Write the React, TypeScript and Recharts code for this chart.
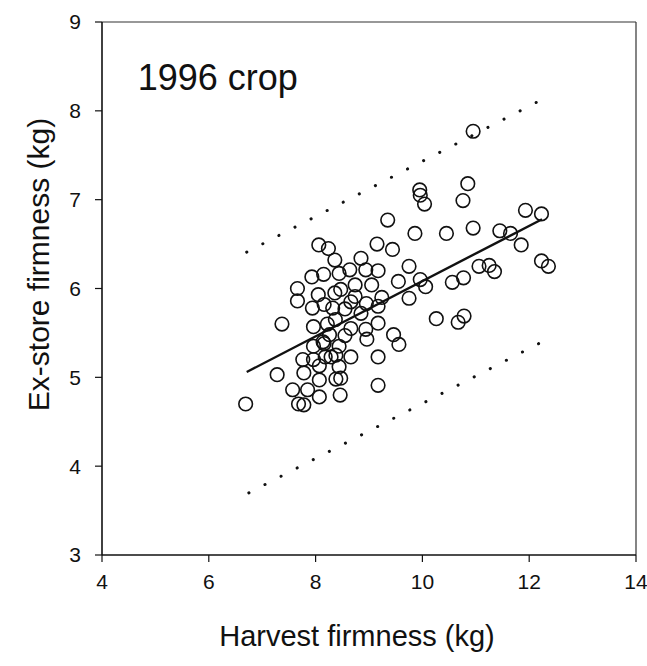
import React from "react";
import {
  ScatterChart,
  Scatter,
  XAxis,
  YAxis,
  ReferenceLine,
  ReferenceDot,
} from "recharts";

// firmness readings (kg)
const harvestFirmness = [
  10.95, 9.95, 9.96, 10.04, 10.85, 10.76, 9.35, 11.93, 12.23, 9.86,
  10.45, 10.95, 11.45, 11.65, 11.85, 9.15, 9.44, 8.06, 8.24, 8.36,
  8.85, 9.75, 12.23, 12.36, 11.06, 11.25, 11.35, 10.56, 10.77, 10.06,
  9.96, 9.55, 9.75, 7.93, 8.15, 8.44, 8.64, 8.94, 9.17, 8.74,
  9.05, 7.66, 7.66, 8.05, 8.36, 8.47, 9.24, 7.94, 8.32, 8.55,
  8.66, 8.95, 9.17, 7.37, 7.96, 8.37, 8.66, 8.94, 9.17, 8.96,
  9.46, 9.56, 8.26, 8.55, 7.96, 8.14, 8.44, 10.26, 10.78, 10.67,
  7.76, 7.96, 8.18, 8.38, 8.66, 9.17, 8.07, 8.44, 7.78, 8.07,
  8.38, 8.47, 7.28, 7.57, 7.85, 8.07, 8.46, 9.17, 7.68, 7.78,
  6.69, 8.16, 8.22, 8.16, 8.29, 8.74, 8.85,
];
const exStoreFirmness = [
  7.77, 7.11, 7.05, 6.95, 7.18, 6.99, 6.77, 6.88, 6.84, 6.62,
  6.62, 6.68, 6.65, 6.62, 6.49, 6.5, 6.44, 6.49, 6.45, 6.32,
  6.34, 6.25, 6.31, 6.25, 6.25, 6.26, 6.19, 6.07, 6.12, 6.02,
  6.1, 6.08, 5.89, 6.13, 6.16, 6.17, 6.21, 6.21, 6.2, 6.04,
  6.04, 6.0, 5.86, 5.93, 5.95, 5.99, 5.9, 5.78, 5.78, 5.77,
  5.85, 5.83, 5.8, 5.6, 5.57, 5.65, 5.55, 5.54, 5.61, 5.43,
  5.48, 5.37, 5.48, 5.47, 5.35, 5.4, 5.35, 5.66, 5.69, 5.62,
  5.2, 5.2, 5.23, 5.25, 5.23, 5.23, 5.13, 5.12, 5.05, 4.97,
  4.98, 4.99, 5.03, 4.86, 4.86, 4.78, 4.8, 4.91, 4.7, 4.69,
  4.7, 5.82, 5.6, 5.38, 5.23, 5.91, 5.72,
];

// fitted line and the two dotted limits (end points)
const fitX = [6.71, 12.24];
const fitY = [5.06, 6.78];
const upperX = [6.71, 12.15];
const upperY = [6.41, 8.1];
const lowerX = [6.75, 12.18];
const lowerY = [3.7, 5.38];

const xTicks = [4, 6, 8, 10, 12, 14];
const yTicks = [3, 4, 5, 6, 7, 8, 9];

const points = harvestFirmness.map((x, i) => ({ x, y: exStoreFirmness[i] }));

const FONT = '"Liberation Sans", Arial, Helvetica, sans-serif';
const INK = "#111";

function Ring(props: any) {
  const { cx, cy } = props;
  if (cx == null || cy == null) return <g />;
  return (
    <circle cx={cx} cy={cy} r={6.8} fill="none" stroke={INK} strokeWidth={1.6} />
  );
}

function seg(xs: number[], ys: number[]) {
  return [
    { x: xs[0], y: ys[0] },
    { x: xs[1], y: ys[1] },
  ] as any;
}

export default function App() {
  return (
    <div
      style={{
        position: "absolute",
        left: 0,
        top: 0,
        width: 647,
        height: 666,
        background: "#fff",
      }}
    >
      <ScatterChart
        width={647}
        height={666}
        margin={{ top: 22, right: 11, bottom: 51, left: 12 }}
      >
        <XAxis
          type="number"
          dataKey="x"
          domain={[4, 14]}
          ticks={xTicks}
          height={60}
          tickSize={7}
          tickMargin={12}
          axisLine={{ stroke: INK, strokeWidth: 1.6 }}
          tickLine={{ stroke: INK, strokeWidth: 1.2 }}
          tick={{ fontSize: 21, fill: INK, fontFamily: FONT }}
          label={{
            content: ({ viewBox }: any) => (
              <text
                x={viewBox.x + viewBox.width / 2 - 12}
                y={viewBox.y + 81}
                textAnchor="middle"
                dominantBaseline="central"
                fontSize={29}
                fontFamily={FONT}
                fill={INK}
              >
                Harvest firmness (kg)
              </text>
            ),
          }}
        />
        <YAxis
          type="number"
          dataKey="y"
          domain={[3, 9]}
          ticks={yTicks}
          width={90}
          tickSize={7}
          tickMargin={14}
          axisLine={{ stroke: INK, strokeWidth: 1.6 }}
          tickLine={{ stroke: INK, strokeWidth: 1.2 }}
          tick={{ fontSize: 21, fill: INK, fontFamily: FONT }}
          label={{
            content: ({ viewBox }: any) => {
              const cx = viewBox.x + 26;
              const cy = viewBox.y + viewBox.height / 2 - 24;
              return (
                <text
                  x={cx}
                  y={cy}
                  transform={`rotate(-90 ${cx} ${cy})`}
                  textAnchor="middle"
                  dominantBaseline="central"
                  fontSize={30}
                  fontFamily={FONT}
                  fill={INK}
                >
                  Ex-store firmness (kg)
                </text>
              );
            },
          }}
        />

        {/* frame: top and right sides */}
        <ReferenceLine y={9} stroke="#333" strokeWidth={1.2} />
        <ReferenceLine x={14} stroke="#333" strokeWidth={1.2} />

        <ReferenceLine
          segment={seg(upperX, upperY)}
          stroke={INK}
          strokeWidth={3}
          strokeLinecap="round"
          strokeDasharray="0.1 18"
        />
        <ReferenceLine
          segment={seg(lowerX, lowerY)}
          stroke={INK}
          strokeWidth={3}
          strokeLinecap="round"
          strokeDasharray="0.1 18"
        />
        <ReferenceLine segment={seg(fitX, fitY)} stroke={INK} strokeWidth={2.4} />

        <ReferenceDot
          x={4.67}
          y={8.38}
          r={0}
          fill="none"
          stroke="none"
          label={{
            value: "1996 crop",
            position: "right",
            offset: 0,
            fontSize: 36,
            fill: INK,
            fontFamily: FONT,
          }}
        />

        <Scatter data={points} shape={Ring} isAnimationActive={false} />
      </ScatterChart>
    </div>
  );
}
